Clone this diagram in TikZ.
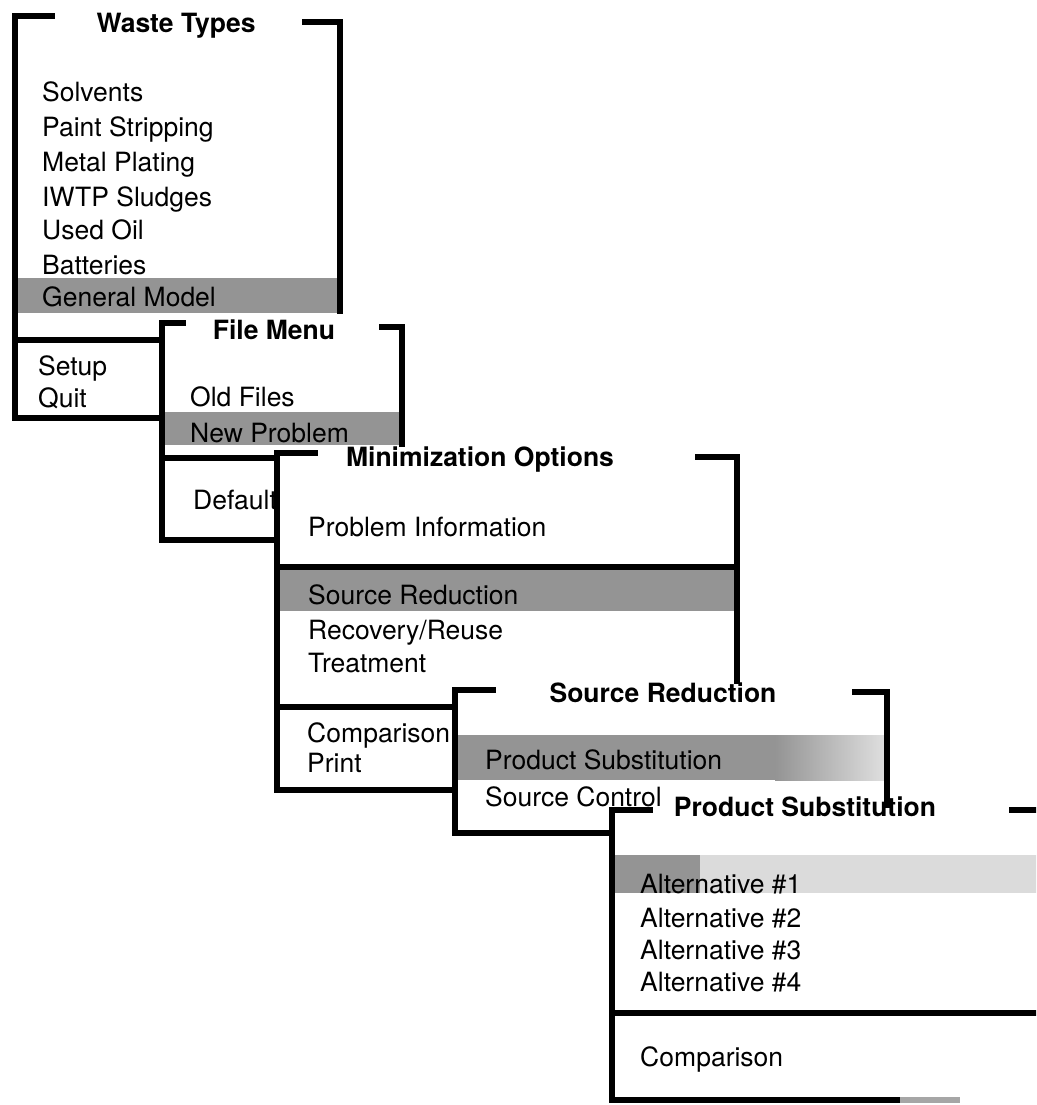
\documentclass[tikz,border=0pt]{standalone}
\usepackage{fontspec}
\setmainfont{TeX Gyre Heros}
\begin{document}
\begin{tikzpicture}[x=1pt,y=-1pt,
  frame/.style={line width=5.5pt, line join=miter, line cap=rect},
  pane/.style={fill=white},
  hilite/.style={fill=black!42},
  item/.style={anchor=west, inner sep=0pt, text height=19pt, text depth=0pt,
               font=\fontsize{26.5}{30}\selectfont},
  wintitle/.style={anchor=center, inner sep=0pt, text height=19pt, text depth=0pt,
               font=\fontsize{26.5}{30}\selectfont\bfseries}]
\useasboundingbox (0,0) rectangle (1036,1105);
\fill[white] (0,0) rectangle (1036,1105);
\clip (0,0) rectangle (1036,1105);

% ---- Waste Types menu ----
\fill[pane] (13,8) rectangle (342,420);
\fill[hilite] (15,278) rectangle (338,313);
\draw[frame] (52,16) -- (15,16) -- (15,418) -- (340,418);
\draw[frame] (305,22) -- (340,22) -- (340,418);
\draw[frame] (15,340) -- (340,340);
\node[wintitle] (wtitle) at (176,23) {Waste Types};
\node[item] (w1) at (42,92)  {Solvents};
\node[item] (w2) at (42,127) {Paint Stripping};
\node[item] (w3) at (42,162) {Metal Plating};
\node[item] (w4) at (42,197) {IWTP Sludges};
\node[item] (w5) at (42,230) {Used Oil};
\node[item] (w6) at (42,265) {Batteries};
\node[item] (w7) at (42,297) {General Model};
\node[item] (w8) at (38,366) {Setup};
\node[item] (w9) at (38,398) {Quit};

% ---- File Menu ----
\fill[pane] (159,314) rectangle (405,543);
\fill[hilite] (162,412) rectangle (400,445);
\draw[frame] (183,323) -- (162,323) -- (162,540) -- (402,540);
\draw[frame] (382,327) -- (402,327) -- (402,540);
\draw[frame] (162,458) -- (402,458);
\node[wintitle] (ftitle) at (274,330) {File Menu};
\node[item] (f1) at (190,397) {Old Files};
\node[item] (f2) at (190,433) {New Problem};
\node[item] (f3) at (193,500) {Default};

% ---- Minimization Options ----
\fill[pane] (274,447) rectangle (740,793);
\fill[hilite] (277,567) rectangle (735,611);
\draw[frame] (315,453) -- (277,453) -- (277,790) -- (737,790);
\draw[frame] (698,457) -- (737,457) -- (737,790);
\draw[frame] (277,567) -- (737,567);
\draw[frame] (277,707) -- (737,707);
\node[wintitle] (mtitle) at (480,457) {Minimization Options};
\node[item] (m1) at (308,527) {Problem Information};
\node[item] (m2) at (308,595) {Source Reduction};
\node[item] (m3) at (308,630) {Recovery/Reuse};
\node[item] (m4) at (308,663) {Treatment};
\node[item] (m5) at (307,733) {Comparison};
\node[item] (m6) at (307,763) {Print};

% ---- Source Reduction ----
\fill[pane] (452,684) rectangle (890,836);
\fill[hilite] (455,735) rectangle (775,780);
\shade[left color=black!42, right color=black!12] (775,735) rectangle (887,780);
\draw[frame] (493,690) -- (455,690) -- (455,833) -- (887,833);
\draw[frame] (855,692) -- (887,692) -- (887,833);
\node[wintitle] (stitle) at (663,693) {Source Reduction};
\node[item] (s1) at (485,760) {Product Substitution};
\node[item] (s2) at (485,797) {Source Control};

% ---- Product Substitution ----
\fill[pane] (609,808) rectangle (1040,1103);
\fill[hilite] (612,855) rectangle (700,893);
\fill[black!14] (700,855) rectangle (1040,893);
\draw[frame] (650,810) -- (612,810) -- (612,1100) -- (900,1100);
\draw[line width=5.5pt, black!35] (900,1100) -- (960,1100);
\draw[frame] (1012,810) -- (1045,810);
\draw[frame] (612,1013) -- (1045,1013);
\node[wintitle] (ptitle) at (805,807) {Product Substitution};
\node[item] (p1) at (640,884)  {Alternative \#1};
\node[item] (p2) at (640,918)  {Alternative \#2};
\node[item] (p3) at (640,950)  {Alternative \#3};
\node[item] (p4) at (640,982)  {Alternative \#4};
\node[item] (p5) at (640,1057) {Comparison};
\end{tikzpicture}
\end{document}
